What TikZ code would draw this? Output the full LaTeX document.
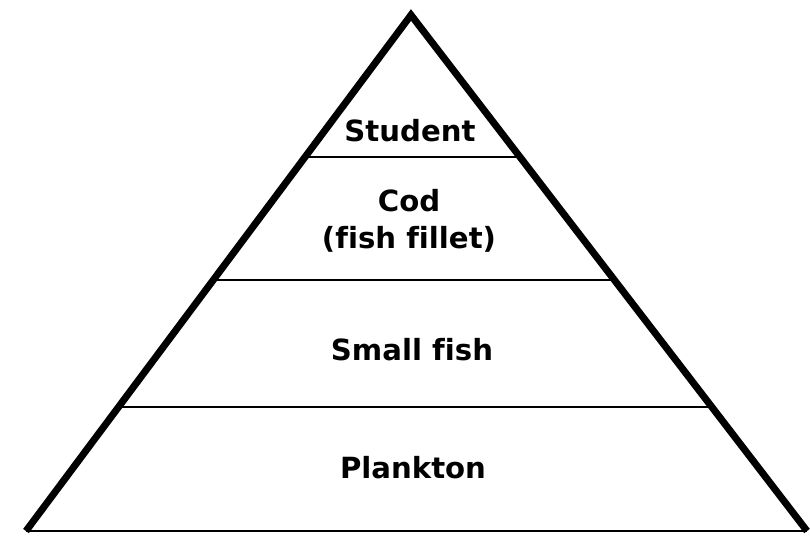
\documentclass[tikz,border=0pt]{standalone}
\usepackage{fontspec}
\setmainfont[Ligatures=NoCommon]{DejaVu Sans}
\usetikzlibrary{calc, positioning}

\begin{document}
\begin{tikzpicture}[x=0.02cm, y=-0.02cm,
    side/.style={line width=4pt},
    level/.style={line width=1.1pt},
    lbl/.style={align=center, font=\fontsize{16.6}{21}\selectfont\bfseries}]
    \useasboundingbox (0,0) rectangle (810,538);

    \coordinate (apex) at (411,15);
    \coordinate (bl) at (26,531);
    \coordinate (br) at (807,531);

    % pyramid outline
    \draw[side] (bl) -- (apex) -- (br);
    \draw[level] (bl) -- (br);

    % level boundaries
    \draw[level] ($(apex)!0.275!(bl)$) coordinate (l1) -- ($(apex)!0.275!(br)$) coordinate (r1);
    \draw[level] ($(apex)!0.514!(bl)$) coordinate (l2) -- ($(apex)!0.514!(br)$) coordinate (r2);
    \draw[level] ($(apex)!0.760!(bl)$) coordinate (l3) -- ($(apex)!0.760!(br)$) coordinate (r3);

    \node[lbl] (student) at (410,131) {Student};
    \node[lbl] (cod) at (409,221) {Cod\\(fish fillet)};
    \node[lbl] (smallfish) at (412,350) {Small fish};
    \node[lbl] (plankton) at (413,468) {Plankton};
\end{tikzpicture}
\end{document}
